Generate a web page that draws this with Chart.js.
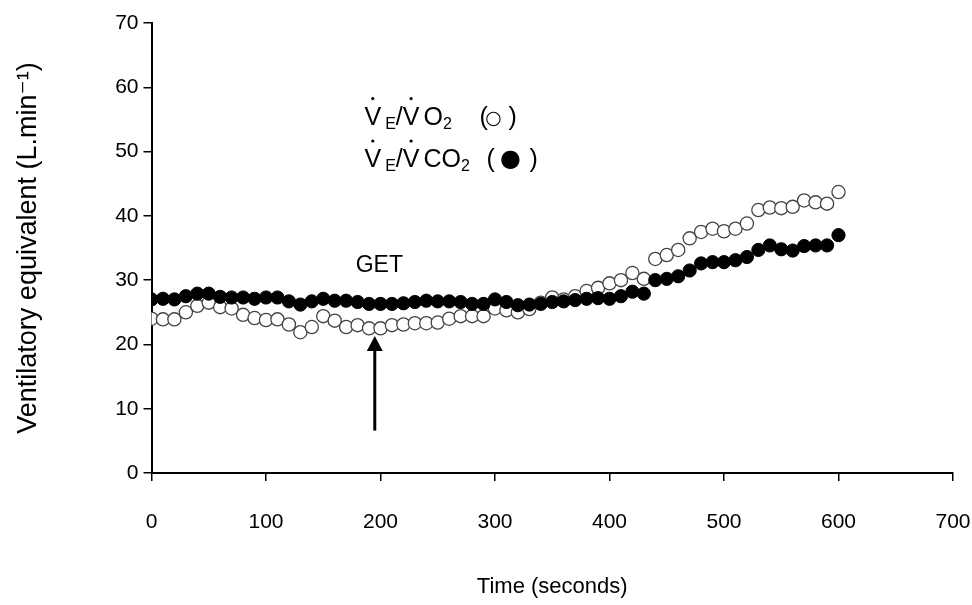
<!DOCTYPE html>
<html>
<head>
<meta charset="utf-8">
<script src="https://cdn.jsdelivr.net/npm/chart.js@4.4.1/dist/chart.umd.min.js"></script>
<style>
  html, body { margin: 0; padding: 0; background: #fff; }
  #wrap { width: 972px; height: 605px; position: relative; }
</style>
</head>
<body>
<div id="wrap"><canvas id="plotCanvas"></canvas></div>
<script>
// --- Data ---
const timeSec = [0, 10, 20, 30, 40, 50, 60, 70, 80, 90,
  100, 110, 120, 130, 140, 150, 160, 170, 180, 190,
  200, 210, 220, 230, 240, 250, 260, 270, 280, 290,
  300, 310, 320, 330, 340, 350, 360, 370, 380, 390,
  400, 410, 420, 430, 440, 450, 460, 470, 480, 490,
  500, 510, 520, 530, 540, 550, 560, 570, 580, 590, 600];

// VE/VO2 (open circles)
const veVo2 = [24.0, 23.9, 23.9, 25.0, 26.0, 26.5, 25.8, 25.6, 24.6, 24.1,
  23.8, 23.9, 23.1, 21.9, 22.7, 24.4, 23.7, 22.7, 23.0, 22.5,
  22.5, 23.0, 23.1, 23.3, 23.3, 23.4, 24.0, 24.4, 24.4, 24.4,
  25.6, 25.3, 25.0, 25.5, 26.5, 27.3, 27.0, 27.5, 28.3, 28.8,
  29.5, 30.0, 31.1, 30.2, 33.3, 33.9, 34.7, 36.5, 37.5, 38.0,
  37.6, 38.0, 38.8, 40.9, 41.3, 41.2, 41.4, 42.4, 42.1, 41.9, 43.7];

// VE/VCO2 (filled circles)
const veVco2 = [27.0, 27.1, 27.0, 27.5, 27.9, 27.9, 27.4, 27.3, 27.3, 27.1,
  27.3, 27.3, 26.7, 26.2, 26.7, 27.1, 26.8, 26.8, 26.6, 26.3,
  26.3, 26.3, 26.4, 26.6, 26.8, 26.7, 26.7, 26.6, 26.3, 26.3,
  27.0, 26.6, 26.1, 26.2, 26.3, 26.6, 26.7, 26.9, 27.1, 27.2,
  27.1, 27.5, 28.2, 27.9, 30.0, 30.2, 30.6, 31.5, 32.6, 32.8,
  32.8, 33.1, 33.6, 34.7, 35.4, 34.8, 34.6, 35.3, 35.4, 35.4, 37.0];

const xTicks = { min: 0, max: 700, step: 100 };
const yTicks = { min: 0, max: 70, step: 10 };

// annotation anchors, in data units
const getLabel = { text: "GET", x: 199, y: 32.2 };
const getArrow = { x: 195, from: 6.6, to: 21.3 };
const keyAnchor = { x: 186, y1: 54.2, y2: 47.6 };

const FONT = "'Liberation Sans', Arial, 'DejaVu Sans', sans-serif";
const SYM_FONT = "'DejaVu Sans', sans-serif";

const toPoints = (xs, ys) => xs.map((x, i) => ({ x, y: ys[i] }));

// --- Annotation plugin: GET label, arrow, and the symbol key ---
// text pieces flow left to right (gap = extra space before); pieces with "at" sit at a fixed offset
const keyLine1 = [
  { t: "V", dot: true }, { t: "E", sub: true, gap: 4 }, { t: "/" },
  { t: "V", dot: true }, { t: "O", gap: 4 }, { t: "2", sub: true },
  { t: "(", at: 115 }, { t: "\u25CB", sym: true, size: 19, at: 129, center: true }, { t: ")", at: 144 }
];
const keyLine2 = [
  { t: "V", dot: true }, { t: "E", sub: true, gap: 4 }, { t: "/" },
  { t: "V", dot: true }, { t: "CO", gap: 4 }, { t: "2", sub: true },
  { t: "(", at: 122 }, { t: "\u25CF", sym: true, size: 24, at: 146, center: true }, { t: ")", at: 165 }
];

function drawKeyLine(ctx, x, base, parts) {
  let cx = x;
  parts.forEach(p => {
    const size = p.size || (p.sub ? 16 : 25);
    ctx.font = `${size}px ${p.sym ? SYM_FONT : FONT}`;
    const w = ctx.measureText(p.t).width;
    if (p.at !== undefined) {
      const px = p.center ? x + p.at - w / 2 : x + p.at;
      ctx.fillText(p.t, px, base + (p.sym ? -1 : 0));
      return;
    }
    cx += p.gap || 0;
    ctx.fillText(p.t, cx, base + (p.sub ? 4 : 0));
    if (p.dot) {
      ctx.beginPath();
      ctx.arc(cx + w / 2, base - 26, 1.6, 0, Math.PI * 2);
      ctx.fill();
    }
    cx += w;
  });
}

const annotations = {
  id: "annotations",
  afterDatasetsDraw(chart) {
    const { ctx, scales: { x, y } } = chart;
    ctx.save();
    ctx.fillStyle = "#000";
    ctx.strokeStyle = "#000";

    // GET
    ctx.font = `23px ${FONT}`;
    ctx.textAlign = "center";
    ctx.textBaseline = "middle";
    ctx.fillText(getLabel.text, x.getPixelForValue(getLabel.x), y.getPixelForValue(getLabel.y));

    // arrow
    const ax = x.getPixelForValue(getArrow.x);
    const ay0 = y.getPixelForValue(getArrow.from);
    const ay1 = y.getPixelForValue(getArrow.to);
    ctx.lineWidth = 3;
    ctx.beginPath();
    ctx.moveTo(ax, ay0);
    ctx.lineTo(ax, ay1 + 12);
    ctx.stroke();
    ctx.beginPath();
    ctx.moveTo(ax, ay1);
    ctx.lineTo(ax - 8, ay1 + 15);
    ctx.lineTo(ax + 8, ay1 + 15);
    ctx.closePath();
    ctx.fill();

    // key
    ctx.textBaseline = "alphabetic";
    ctx.textAlign = "left";
    const kx = x.getPixelForValue(keyAnchor.x);
    drawKeyLine(ctx, kx, y.getPixelForValue(keyAnchor.y1), keyLine1);
    drawKeyLine(ctx, kx, y.getPixelForValue(keyAnchor.y2), keyLine2);
    ctx.restore();
  }
};

// --- Chart ---
const ctx = document.getElementById("plotCanvas").getContext("2d");
const chart = new Chart(ctx, {
  type: "scatter",
  data: {
    datasets: [
      {
        label: "VE/VCO2",
        data: toPoints(timeSec, veVco2),
        pointRadius: 6.6,
        pointBackgroundColor: "#000",
        pointBorderColor: "#000",
        pointBorderWidth: 1,
        showLine: false
      },
      {
        label: "VE/VO2",
        data: toPoints(timeSec, veVo2),
        pointRadius: 6.6,
        pointBackgroundColor: "#fff",
        pointBorderColor: "#444",
        pointBorderWidth: 1.3,
        showLine: false
      }
    ]
  },
  options: {
    responsive: true,
    maintainAspectRatio: false,
    animation: false,
    layout: { padding: { top: 23, right: 0, bottom: 0, left: 0 } },
    plugins: {
      legend: { display: false },
      tooltip: { enabled: false }
    },
    scales: {
      x: {
        type: "linear",
        min: xTicks.min,
        max: xTicks.max,
        ticks: {
          stepSize: xTicks.step,
          color: "#000",
          padding: 29,
          maxRotation: 0,
          font: { size: 21, family: FONT }
        },
        grid: { drawOnChartArea: false, tickLength: 8, color: "#000", lineWidth: 1.5 },
        border: { color: "#000", width: 2 },
        title: {
          display: true,
          text: "Time (seconds)",
          color: "#000",
          font: { size: 22, family: FONT },
          padding: { top: 0, bottom: 5 }
        },
        afterFit(scale) {
          scale.height = 132;
          scale.paddingRight = 19;
        }
      },
      y: {
        min: yTicks.min,
        max: yTicks.max,
        ticks: {
          stepSize: yTicks.step,
          color: "#000",
          padding: 5,
          font: { size: 21, family: FONT }
        },
        grid: { drawOnChartArea: false, tickLength: 8, color: "#000", lineWidth: 1.5 },
        border: { color: "#000", width: 2 },
        title: {
          display: true,
          text: "Ventilatory equivalent (L.min\u207B\u00B9)",
          color: "#000",
          font: { size: 27, family: FONT },
          padding: { top: 12, bottom: 0 }
        },
        afterFit(scale) { scale.width = 151.5; }
      }
    }
  },
  plugins: [annotations]
});
</script>
</body>
</html>
